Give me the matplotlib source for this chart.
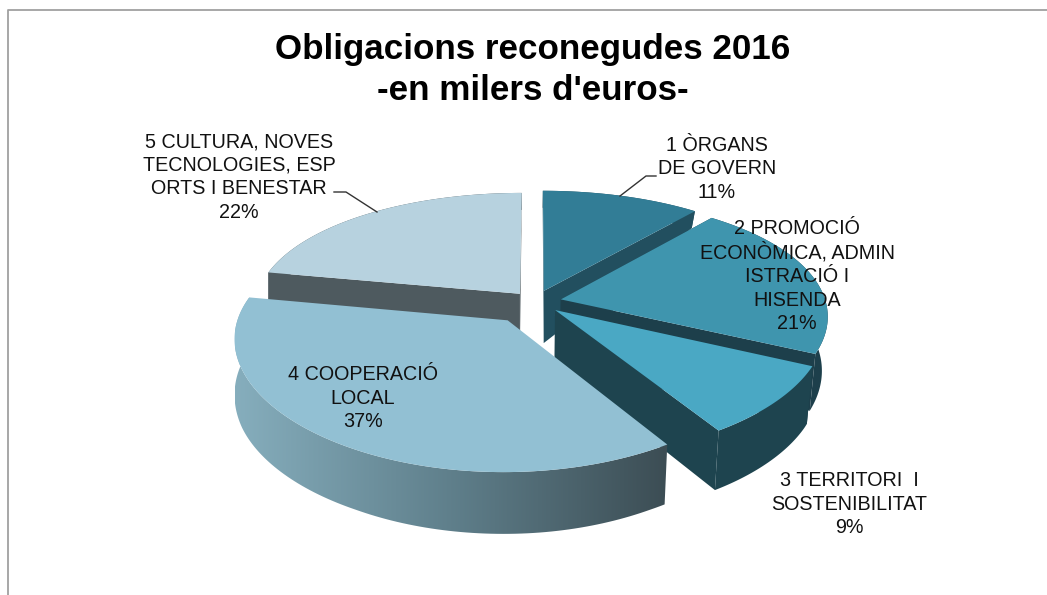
import numpy as np
import matplotlib
matplotlib.use("Agg")
import matplotlib.pyplot as plt
from matplotlib.colors import LinearSegmentedColormap
from matplotlib.patches import Polygon

plt.rcParams['font.family'] = ['Liberation Sans', 'DejaVu Sans']

# data
values = [11, 21, 9, 37, 22]
labels = ["1 ÒRGANS\nDE GOVERN", "2 PROMOCIÓ\nECONÒMICA, ADMIN\nISTRACIÓ I\nHISENDA",
          "3 TERRITORI  I\nSOSTENIBILITAT", "4 COOPERACIÓ\nLOCAL",
          "5 CULTURA, NOVES\nTECNOLOGIES, ESP\nORTS I BENESTAR"]
title = "Obligacions reconegudes 2016\n-en milers d'euros-"

top_colors = ['#327d96', '#3f95ae', '#4aa8c4', '#92c0d3', '#b7d2df']
wall_colors = ['#224f5f', '#1d3f4b', '#1e444f', None, '#4e5a5f']
wall_ramp = LinearSegmentedColormap.from_list('wall', ['#86aebd', '#5f7f8b', '#3c4d54'])
label_pos = [(717, 169), (797, 276), (849, 504), (363, 398), (239, 177)]
explode = [0.10, 0.10, 0.10, 0.18, 0.09]

# projection of the tilted pie, in pixels
cx, cy = 535, 302
rx, ry = 265, 120
persp_x, persp_y = 0.13, 0.165


def project(u, v):
    return cx + rx * u / (1 + persp_x * v), cy - ry * v / (1 + persp_y * v)


def depth(y):
    return np.interp(y, [212, 268, 288, 370, 450, 475], [17, 27, 52, 58, 60, 62])


def lower(x, y):
    # the bottom face only pulls in on the right side
    return np.where(x > cx, cx + (x - cx) * 0.98, x), y + depth(y)


fig = plt.figure(figsize=(10.47, 5.95), dpi=100)
ax = fig.add_axes([0, 0, 1, 1])

shares = np.array(values) / sum(values)
edges = np.concatenate([[0], np.cumsum(shares)]) * 2 * np.pi

outline = {}
for i in range(len(values)):
    mid = (edges[i] + edges[i + 1]) / 2
    t = np.linspace(edges[i], edges[i + 1], 120)
    ox, oy = explode[i] * np.sin(mid), explode[i] * np.cos(mid)
    xs, ys = project(np.sin(t) + ox, np.cos(t) + oy)
    tx, ty = project(ox, oy)
    outline[i] = (xs, ys, tx, ty)

# back slices first
for i in [0, 4, 1, 2, 3]:
    xs, ys, tx, ty = outline[i]
    bx, by = lower(xs, ys)
    tbx, tby = lower(tx, ty)
    wall = wall_colors[i]
    if wall is None:
        # the big slice has a shaded side
        lo, hi = bx.min(), xs.max()
        im = ax.imshow(np.linspace(0, 1, 256).reshape(1, -1), cmap=wall_ramp, aspect='auto',
                       extent=(lo, hi, by.max() + 2, ys.min()), zorder=2)
        side = Polygon(np.c_[np.r_[xs, bx[::-1]], np.r_[ys, by[::-1]]], transform=ax.transData)
        im.set_clip_path(side)
    else:
        ax.fill([tx, xs[0], bx[0], tbx], [ty, ys[0], by[0], tby], color=wall, lw=0, zorder=2)
        ax.fill([tx, xs[-1], bx[-1], tbx], [ty, ys[-1], by[-1], tby], color=wall, lw=0, zorder=2)
        ax.fill(np.r_[xs, bx[::-1]], np.r_[ys, by[::-1]], color=wall, lw=0, zorder=2)
    ax.fill(np.r_[tx, xs], np.r_[ty, ys], color=top_colors[i], lw=0, zorder=2)

ax.set_xlim(0, 1047)
ax.set_ylim(595, 0)
ax.axis('off')

# frame, cut by the picture edge on the right and at the bottom
ax.plot([7.5, 7.5, 1047], [595, 9.5, 9.5], color='#a0a0a0', lw=1.3)

# leader lines
ax.plot([620, 646, 656], [196, 176, 176], color='#333333', lw=1, zorder=3)
ax.plot([334, 346, 377], [192, 192, 212], color='#333333', lw=1, zorder=3)

for lab, val, (x, y) in zip(labels, values, label_pos):
    ax.text(x, y, f"{lab}\n{val}%", ha='center', va='center', fontsize=14.2,
            linespacing=1.3, color='#111111', zorder=4)

ax.text(533, 70, title, ha='center', va='center', fontsize=25.2, fontweight='bold',
        linespacing=1.3, color='black', zorder=4)

fig.savefig('out.png', dpi=100)
